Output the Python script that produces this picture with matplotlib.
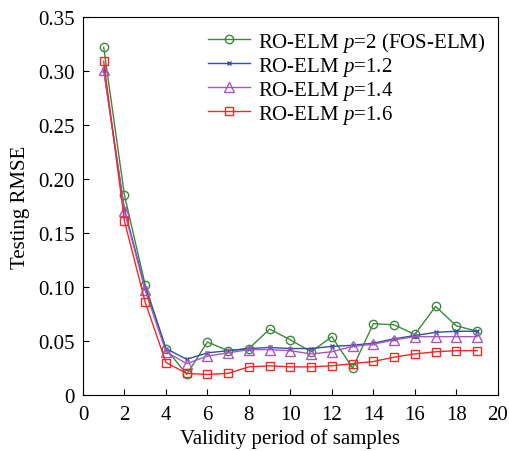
import matplotlib
matplotlib.use("Agg")
import matplotlib.pyplot as plt

plt.rcParams['font.family'] = 'Liberation Serif'
plt.rcParams['mathtext.fontset'] = 'custom'
plt.rcParams['mathtext.rm'] = 'Liberation Serif'
plt.rcParams['mathtext.it'] = 'Liberation Serif:italic'

periods = list(range(1, 20))
rmse_p20 = [0.322, 0.185, 0.102, 0.043, 0.019, 0.049, 0.041, 0.043, 0.061, 0.051,
            0.040, 0.054, 0.025, 0.066, 0.065, 0.056, 0.082, 0.064, 0.059]
rmse_p12 = [0.301, 0.172, 0.099, 0.043, 0.033, 0.039, 0.041, 0.043, 0.044, 0.043,
            0.043, 0.045, 0.046, 0.048, 0.052, 0.055, 0.058, 0.059, 0.059]
rmse_p14 = [0.301, 0.170, 0.097, 0.040, 0.029, 0.036, 0.039, 0.042, 0.042, 0.041,
            0.038, 0.040, 0.045, 0.047, 0.051, 0.054, 0.054, 0.054, 0.054]
rmse_p16 = [0.309, 0.161, 0.086, 0.030, 0.020, 0.019, 0.020, 0.026, 0.027, 0.026,
            0.026, 0.027, 0.029, 0.031, 0.035, 0.038, 0.040, 0.041, 0.041]
labels = [r'RO-ELM $p$=2 (FOS-ELM)', r'RO-ELM $p$=1.2',
          r'RO-ELM $p$=1.4', r'RO-ELM $p$=1.6']

fig = plt.figure(figsize=(5.09, 4.52), dpi=100)
ax = fig.add_axes([0.163, 0.124, 0.815, 0.836])

ax.plot(periods, rmse_p20, color='#3a8a3a', marker='o', ms=6, mfc='none', lw=1, label=labels[0])
ax.plot(periods, rmse_p12, color='#3050a8', marker='x', ms=3, mew=1, lw=1, label=labels[1])
ax.plot(periods, rmse_p14, color='#a858b8', marker='^', ms=6.5, mfc='none', lw=1, label=labels[2])
ax.plot(periods, rmse_p16, color='#f02828', marker='s', ms=6, mfc='none', lw=1, label=labels[3])

ax.set_xlim(0, 20)
ax.set_ylim(0, 0.35)
ax.set_xticks(range(0, 21, 2))
ax.set_yticks([0, 0.05, 0.10, 0.15, 0.20, 0.25, 0.30, 0.35])
ax.set_yticklabels(['0', '0.05', '0.10', '0.15', '0.20', '0.25', '0.30', '0.35'])
ax.tick_params(direction='in', labelsize=15, length=4)
ax.tick_params(axis='x', pad=7)
ax.tick_params(axis='y', pad=6)
ax.set_xlabel('Validity period of samples', fontsize=15, labelpad=3)
ax.set_ylabel('Testing RMSE', fontsize=15, labelpad=6)
ax.legend(loc='upper right', frameon=False, fontsize=15, handlelength=2.0,
          labelspacing=0.05, borderaxespad=0.2, handletextpad=0.4)

fig.savefig('out.png', dpi=100)
